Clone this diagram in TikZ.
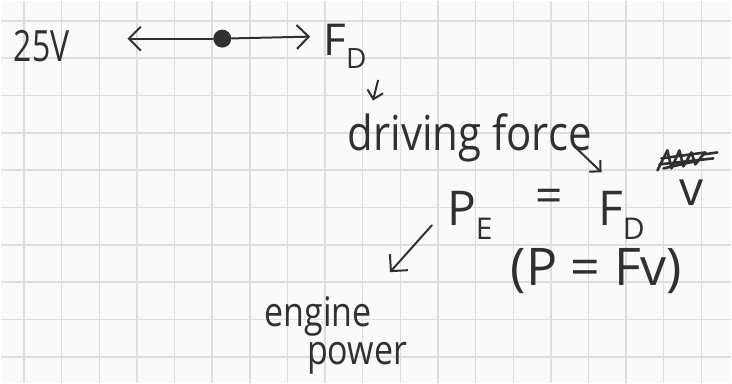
\documentclass[tikz,border=0pt]{standalone}
\usepackage{fontspec}
\setmainfont{Open Sans}
\usetikzlibrary{arrows.meta}
\definecolor{ink}{HTML}{303030}
\definecolor{gridc}{HTML}{DEDEDE}
\begin{document}
\begin{tikzpicture}[x=0.5pt,y=-0.5pt,
  ink/.style={draw=ink, line width=1pt, line cap=round, line join=round},
  arr/.style={ink, -{Straight Barb[length=6pt,width=12pt]}},
  sarr/.style={ink, -{Straight Barb[length=4pt,width=8pt]}},
  txt/.style={text=ink, inner sep=0pt, anchor=base}]
\fill[white!98!black] (0,0) rectangle (732,383);
\foreach \i in {0,...,18} \draw[gridc, line width=0.7pt] ({23.4+37.7*\i},0) -- ({23.4+37.7*\i},383);
\foreach \j in {0,...,9} \draw[gridc, line width=0.7pt] (0,{20.2+37.4*\j}) -- (732,{20.2+37.4*\j});
\useasboundingbox (0,0) rectangle (732,383);
% top line
\node[txt, font=\fontsize{16}{20}\selectfont] (v25) at (41,61) {\scalebox{1}[1.35]{25V}};
\node[circle, fill=ink, minimum size=9pt, inner sep=0pt] (dot) at (222,38) {};
\coordinate (L) at (127,38);
\coordinate (R) at (310,36);
\draw[arr] (dot) -- (L);
\draw[arr] (dot) -- (R);
\node[txt, font=\fontsize{22}{24}\selectfont] (FD) at (345,55) {F\raisebox{-0.3em}{\fontsize{14}{14}\selectfont D}};
\coordinate (d1) at (378,80);
\coordinate (d2) at (373,100);
\draw[sarr] (d1) -- (d2);
% driving force
\node[txt, font=\fontsize{21}{24}\selectfont] (drv) at (470,150) {\scalebox{1}[1.15]{driving force}};
\coordinate (f1) at (577,148);
\coordinate (f2) at (602,172);
\draw[sarr] (f1) -- (f2);
% equation
\node[txt, font=\fontsize{24}{26}\selectfont] (PE) at (470,225) {P\raisebox{-0.3em}{\fontsize{15}{15}\selectfont E}};
\node[txt, font=\fontsize{24}{26}\selectfont] (eq) at (550,212) {=};
\node[txt, font=\fontsize{24}{26}\selectfont] (FD2) at (622,225) {F\raisebox{-0.3em}{\fontsize{15}{15}\selectfont D}};
\node[txt, font=\fontsize{24}{26}\selectfont] (vv) at (692,205) {v};
% crossed-out scribble
\draw[ink, line width=1.3pt] (658,170) -- (668,150) -- (672,168) -- (680,150) -- (684,166) -- (692,152) -- (696,164) -- (704,154) -- (718,152)
  (660,164) -- (714,158) (662,158) -- (706,152) (664,168) -- (700,160);
\node[txt, font=\fontsize{26}{28}\selectfont] (pfv) at (597,285) {(P = Fv)};
% engine power
\coordinate (e1) at (432,225);
\coordinate (e2) at (390,272);
\draw[arr] (e1) -- (e2);
\node[txt, font=\fontsize{17}{20}\selectfont] (eng) at (318,326) {\scalebox{1}[1.2]{engine}};
\node[txt, font=\fontsize{17}{20}\selectfont] (pow) at (357,364) {\scalebox{1}[1.2]{power}};
\end{tikzpicture}
\end{document}
